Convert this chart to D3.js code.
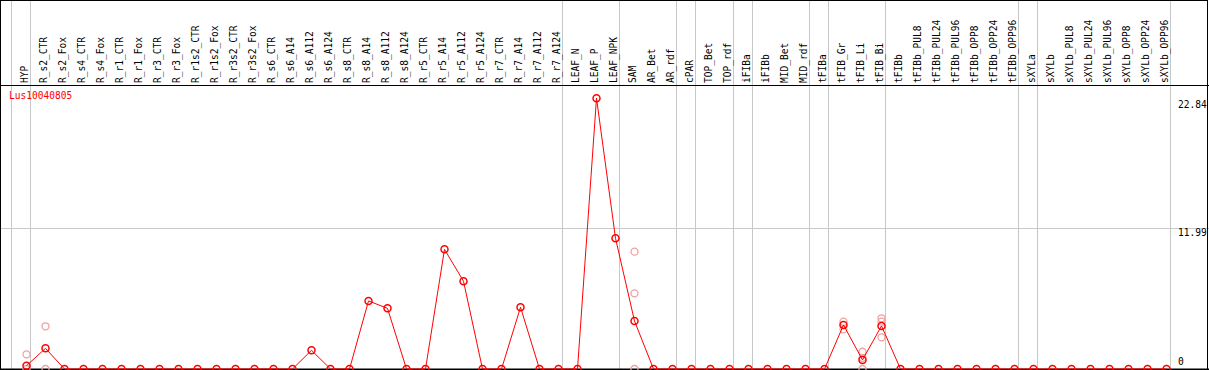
<!DOCTYPE html>
<html>
<head>
<meta charset="utf-8">
<script src="https://cdn.jsdelivr.net/npm/d3@7"></script>
<style>
  body { margin: 0; background: #fff; }
  svg text { font-family: "DejaVu Sans Mono", monospace; font-size: 11px; }
</style>
</head>
<body>
<div class="chart"></div>
<script>
// data
var categories = ["HYP","R_s2_CTR","R_s2_Fox","R_s4_CTR","R_s4_Fox","R_r1_CTR","R_r1_Fox","R_r3_CTR","R_r3_Fox",
  "R_r1s2_CTR","R_r1s2_Fox","R_r3s2_CTR","R_r3s2_Fox","R_s6_CTR","R_s6_A14","R_s6_A112","R_s6_A124",
  "R_s8_CTR","R_s8_A14","R_s8_A112","R_s8_A124","R_r5_CTR","R_r5_A14","R_r5_A112","R_r5_A124",
  "R_r7_CTR","R_r7_A14","R_r7_A112","R_r7_A124","LEAF_N","LEAF_P","LEAF_NPK","SAM","AR_Bet","AR_rdf",
  "cPAR","TOP_Bet","TOP_rdf","iFIBa","iFIBb","MID_Bet","MID_rdf","tFIBa","tFIB_Gr","tFIB_Li","tFIB_Bi",
  "tFIBb","tFIBb_PUL8","tFIBb_PUL24","tFIBb_PUL96","tFIBb_OPP8","tFIBb_OPP24","tFIBb_OPP96",
  "sXYLa","sXYLb","sXYLb_PUL8","sXYLb_PUL24","sXYLb_PUL96","sXYLb_OPP8","sXYLb_OPP24","sXYLb_OPP96"];

var means = [0.28,1.76,0,0,0,0,0,0,0,0,0,0,0,0,0,1.59,0,0,5.80,5.17,0,0,10.2,7.48,0,0,5.26,0,0,0,
  23.08,11.14,4.09,0,0,0,0,0,0,0,0,0,0,3.75,0.77,3.67,0,0,0,0,0,0,0,0,0,0,0,0,0,0,0];

// individual replicates (faint circles)
var repCats = ["HYP","HYP","R_s2_CTR","R_s2_CTR","SAM","SAM","SAM",
  "tFIB_Gr","tFIB_Gr","tFIB_Li","tFIB_Li","tFIB_Li","tFIB_Bi","tFIB_Bi","tFIB_Bi"];
var repVals = [1.25,0,3.64,0,10.0,6.45,0,
  4.03,3.38,1.47,0.95,0,4.32,4.03,2.70];

// first sample of each group (grey separators)
var groupStarts = ["HYP","R_s2_CTR","LEAF_N","SAM","cPAR","TOP_Bet","iFIBa","iFIBb","tFIBa","tFIB_Gr","tFIBb","sXYLa","sXYLb"];

var tickVals = [0, 11.99, 22.84];
var geneName = "Lus10040805";

var width = 1209, height = 370;
var squeeze = 0.87; // the original font is narrower than DejaVu Mono

var svg = d3.select(".chart")
    .append("svg")
    .attr("width", width)
    .attr("height", height);

var x = d3.scaleBand()
    .domain(categories)
    .range([11.5, 1170.5])
    .padding(0);

var y = d3.scaleLinear()
    .domain([0, 11.99])
    .range([369, 228.3]);

function cx(c) { return x(c) + 15; }

// vertical separators
groupStarts.forEach(function(c) {
  svg.append("line")
    .attr("x1", Math.round(x(c)) - 0.5).attr("x2", Math.round(x(c)) - 0.5)
    .attr("y1", 0).attr("y2", height)
    .attr("stroke", "#c8c8c8").attr("stroke-width", 1);
});
svg.append("line")
  .attr("x1", 1170.5).attr("x2", 1170.5)
  .attr("y1", 0).attr("y2", height)
  .attr("stroke", "#c8c8c8");

// horizontal grid at middle tick
svg.append("line")
  .attr("x1", 0).attr("x2", width)
  .attr("y1", Math.round(y(11.99)) + 0.5).attr("y2", Math.round(y(11.99)) + 0.5)
  .attr("stroke", "#c8c8c8");

// frame
svg.append("rect")
  .attr("x", 0.5).attr("y", 0.5)
  .attr("width", width - 2).attr("height", height - 1)
  .attr("fill", "none").attr("stroke", "#000");
svg.append("line")
  .attr("x1", 0).attr("x2", width).attr("y1", 85.5).attr("y2", 85.5)
  .attr("stroke", "#000");
svg.append("line")
  .attr("x1", 0).attr("x2", width).attr("y1", 369.5).attr("y2", 369.5)
  .attr("stroke", "#000").attr("stroke-width", 2);

// column labels
svg.selectAll(".col")
  .data(categories)
  .enter().append("text")
  .attr("class", "col")
  .attr("transform", function(d) { return "translate(" + (x(d) + 16.5) + ",83) rotate(-90) scale(" + squeeze + ",1)"; })
  .attr("fill", "#000")
  .text(function(d) { return d; });

// y labels
tickVals.forEach(function(v, i) {
  var ty = i == 0 ? 365 : y(v) + 7.5;
  svg.append("text")
    .attr("transform", "translate(1178," + ty + ") scale(" + squeeze + ",1)")
    .attr("fill", "#000")
    .text(v == 0 ? "0" : v.toFixed(2));
});

// gene name
svg.append("text")
  .attr("transform", "translate(9,99) scale(" + squeeze + ",1)")
  .attr("fill", "red")
  .text(geneName);

// replicate circles
repCats.forEach(function(c, i) {
  svg.append("circle")
    .attr("cx", cx(c)).attr("cy", y(repVals[i]))
    .attr("r", 3.5)
    .attr("fill", "none")
    .attr("stroke", "#f0a0a0")
    .attr("stroke-width", 1.3);
});

// mean line
svg.append("path")
  .datum(means)
  .attr("fill", "none")
  .attr("stroke", "red")
  .attr("stroke-width", 1)
  .attr("d", d3.line()
    .x(function(d, i) { return cx(categories[i]); })
    .y(function(d) { return y(d); }));

svg.selectAll(".pt")
  .data(means)
  .enter().append("circle")
  .attr("class", "pt")
  .attr("cx", function(d, i) { return cx(categories[i]); })
  .attr("cy", function(d) { return y(d); })
  .attr("r", 3.5)
  .attr("fill", "none")
  .attr("stroke", "red")
  .attr("stroke-width", 1.5);
</script>
</body>
</html>
